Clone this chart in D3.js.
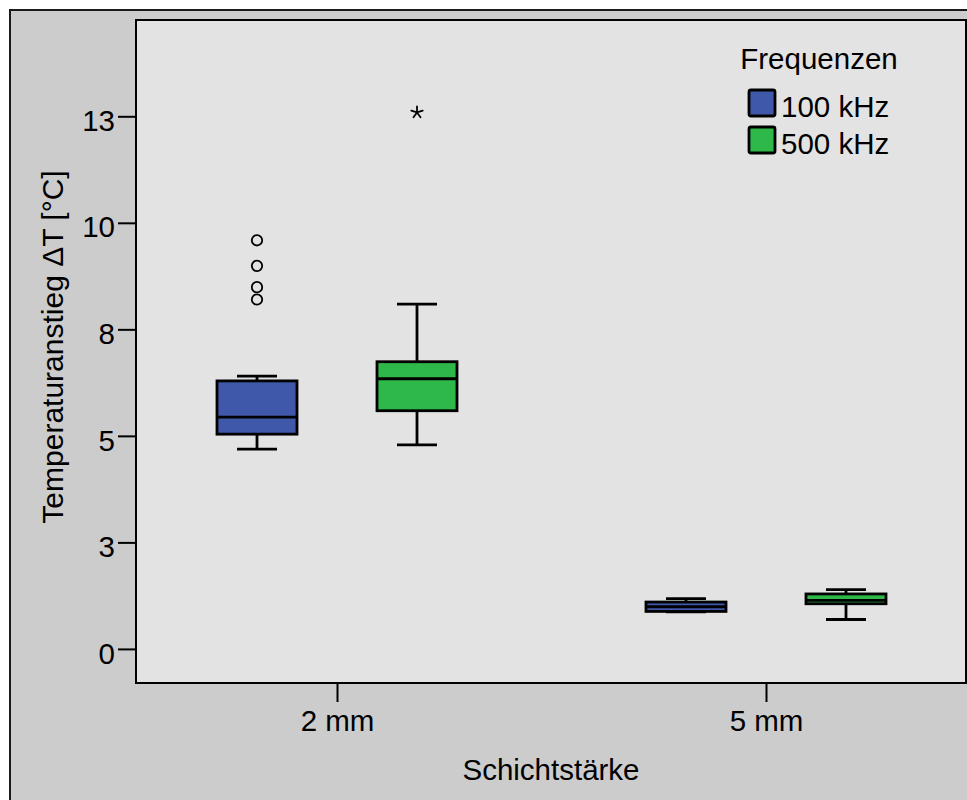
<!DOCTYPE html>
<html>
<head>
<meta charset="utf-8">
<script src="https://cdn.jsdelivr.net/npm/d3@7"></script>
<style>
  html, body { margin: 0; padding: 0; background: #ffffff; }
  svg { display: block; font-family: "Liberation Sans", Arial, sans-serif; }
</style>
</head>
<body>
<svg id="chart" width="967" height="800"></svg>
<script>
// Layer thickness groups and frequency series
const categories = ["2 mm", "5 mm"];
const series = ["100 kHz", "500 kHz"];
const seriesColors = ["#3f58a9", "#2fb84a"];

// Box-plot statistics per series, one value per category
const lowWhisker100 = [4.69, 0.87];
const q1_100 = [5.04, 0.88];
const median100 = [5.44, 0.99];
const q3_100 = [6.29, 1.10];
const highWhisker100 = [6.40, 1.18];

const lowWhisker500 = [4.79, 0.69];
const q1_500 = [5.59, 1.06];
const median500 = [6.34, 1.14];
const q3_500 = [6.74, 1.29];
const highWhisker500 = [8.09, 1.39];

// Outliers (circles) and extreme values (stars)
const outliers100_2mm = [9.59, 8.99, 8.49, 8.20];
const extremes500_2mm = [12.59];

// Y axis ticks and their printed labels
const yTickValues = [0, 2.5, 5, 7.5, 10, 12.5];
const yTickLabels = ["0", "3", "5", "8", "10", "13"];

const stats = [
  { key: series[0], color: seriesColors[0], lo: lowWhisker100, q1: q1_100, med: median100, q3: q3_100, hi: highWhisker100 },
  { key: series[1], color: seriesColors[1], lo: lowWhisker500, q1: q1_500, med: median500, q3: q3_500, hi: highWhisker500 }
];

const svg = d3.select("#chart");
const plot = { left: 136, top: 20, right: 966, bottom: 683 };
const fontSize = 29.5;
const sw = 2.8;

// Outer frame
svg.append("rect")
  .attr("x", 10).attr("y", 10)
  .attr("width", 980).attr("height", 820)
  .attr("fill", "#cccccc")
  .attr("stroke", "#1a1a1a").attr("stroke-width", 2);

// Plot background
svg.append("rect")
  .attr("x", plot.left).attr("y", plot.top)
  .attr("width", plot.right - plot.left).attr("height", plot.bottom - plot.top)
  .attr("fill", "#e3e3e3")
  .attr("stroke", "#000").attr("stroke-width", 2);

// Scales
const y = d3.scaleLinear().domain([-0.80, 14.76]).range([plot.bottom, plot.top]);
const x = d3.scalePoint().domain(categories).range([337, 766]);
const sub = d3.scaleBand().domain(series).range([-160, 160]);
const boxW = sub.bandwidth() / 2;
const capW = boxW / 2;

// Y axis
const yAxis = svg.append("g")
  .attr("transform", `translate(${plot.left},0)`)
  .call(d3.axisLeft(y)
    .tickValues(yTickValues)
    .tickFormat((d, i) => yTickLabels[i])
    .tickSize(18).tickSizeOuter(0).tickPadding(3));
yAxis.select(".domain").remove();
yAxis.selectAll(".tick line").attr("stroke", "#000").attr("stroke-width", 2);
yAxis.selectAll(".tick text")
  .attr("dy", "0.48em")
  .attr("fill", "#000")
  .style("font-size", fontSize + "px")
  .style("font-family", "'Liberation Sans', Arial, sans-serif");

// X axis
const xAxis = svg.append("g")
  .attr("transform", `translate(0,${plot.bottom})`)
  .call(d3.axisBottom(x).tickSize(19).tickSizeOuter(0).tickPadding(8));
xAxis.select(".domain").remove();
xAxis.selectAll(".tick line").attr("stroke", "#000").attr("stroke-width", 2);
xAxis.selectAll(".tick text")
  .attr("fill", "#000")
  .style("font-size", fontSize + "px")
  .style("font-family", "'Liberation Sans', Arial, sans-serif");

// Axis titles
svg.append("text")
  .attr("x", (plot.left + plot.right) / 2).attr("y", 780)
  .attr("text-anchor", "middle")
  .style("font-size", fontSize + "px")
  .text("Schichtstärke");

svg.append("text")
  .attr("transform", `translate(63,347) rotate(-90)`)
  .attr("text-anchor", "middle")
  .style("font-size", "30px")
  .text("Temperaturanstieg  ΔT [°C]");

// Boxes
const boxes = svg.append("g");
stats.forEach(s => {
  categories.forEach((c, i) => {
    const cx = x(c) + sub(s.key) + sub.bandwidth() / 2;
    const g = boxes.append("g");
    // whiskers
    g.append("line")
      .attr("x1", cx).attr("x2", cx)
      .attr("y1", y(s.hi[i])).attr("y2", y(s.q3[i]))
      .attr("stroke", "#000").attr("stroke-width", sw);
    g.append("line")
      .attr("x1", cx).attr("x2", cx)
      .attr("y1", y(s.q1[i])).attr("y2", y(s.lo[i]))
      .attr("stroke", "#000").attr("stroke-width", sw);
    [s.hi[i], s.lo[i]].forEach(v => {
      g.append("line")
        .attr("x1", cx - capW / 2).attr("x2", cx + capW / 2)
        .attr("y1", y(v)).attr("y2", y(v))
        .attr("stroke", "#000").attr("stroke-width", sw);
    });
    // box
    g.append("rect")
      .attr("x", cx - boxW / 2).attr("width", boxW)
      .attr("y", y(s.q3[i])).attr("height", y(s.q1[i]) - y(s.q3[i]))
      .attr("fill", s.color)
      .attr("stroke", "#000").attr("stroke-width", sw);
    // median
    g.append("line")
      .attr("x1", cx - boxW / 2).attr("x2", cx + boxW / 2)
      .attr("y1", y(s.med[i])).attr("y2", y(s.med[i]))
      .attr("stroke", "#000").attr("stroke-width", sw);
  });
});

// Outliers of 100 kHz at 2 mm
const cxOut = x(categories[0]) + sub(series[0]) + sub.bandwidth() / 2;
svg.append("g").selectAll("circle")
  .data(outliers100_2mm)
  .join("circle")
  .attr("cx", cxOut).attr("cy", d => y(d))
  .attr("r", 5.2)
  .attr("fill", "none")
  .attr("stroke", "#000").attr("stroke-width", 1.8);

// Extreme values of 500 kHz at 2 mm drawn as five-armed stars
const cxExt = x(categories[0]) + sub(series[1]) + sub.bandwidth() / 2;
function starPath(r) {
  const p = d3.path();
  for (let k = 0; k < 5; k++) {
    const a = -Math.PI / 2 + k * 2 * Math.PI / 5;
    p.moveTo(0, 0);
    p.lineTo(r * Math.cos(a), r * Math.sin(a));
  }
  return p.toString();
}
svg.append("g").selectAll("path")
  .data(extremes500_2mm)
  .join("path")
  .attr("transform", d => `translate(${cxExt},${y(d)})`)
  .attr("d", starPath(6))
  .attr("fill", "none")
  .attr("stroke", "#000").attr("stroke-width", 1.8)
  .attr("stroke-linecap", "round");

// Legend
const legend = svg.append("g");
legend.append("text")
  .attr("x", 819).attr("y", 69)
  .attr("text-anchor", "middle")
  .style("font-size", fontSize + "px")
  .text("Frequenzen");
series.forEach((s, i) => {
  const top = 90 + i * 37;
  legend.append("rect")
    .attr("x", 749).attr("y", top)
    .attr("width", 26).attr("height", 26)
    .attr("rx", 2)
    .attr("fill", seriesColors[i])
    .attr("stroke", "#000").attr("stroke-width", sw);
  legend.append("text")
    .attr("x", 781).attr("y", top + 27)
    .style("font-size", fontSize + "px")
    .text(s);
});
</script>
</body>
</html>
